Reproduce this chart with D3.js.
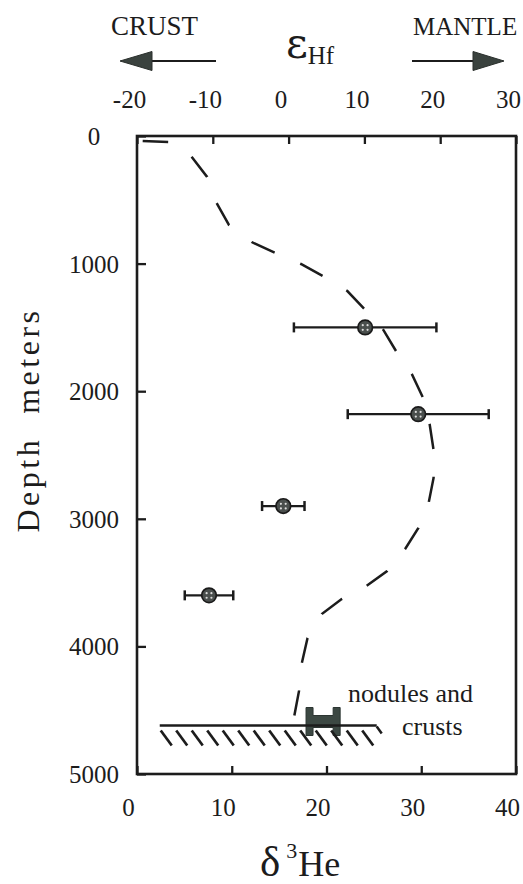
<!DOCTYPE html>
<html>
<head>
<meta charset="utf-8">
<script src="https://cdn.jsdelivr.net/npm/d3@7"></script>
<style>
  html, body { margin: 0; padding: 0; background: #fff; }
  svg { display: block; }
  text { font-family: "Liberation Serif", "Times New Roman", Times, serif; fill: #1c1c1c; }
</style>
</head>
<body>
<svg id="chart" width="523" height="884"></svg>
<script>
// Water-column δ3He profile (dashed curve): δ3He (%) against depth (m)
const profileHe    = [0.6, 3.3, 5.7, 7.4, 8.4, 9.7, 12.1, 14.6, 17.3, 19.6, 22.2, 24.0, 26.0, 27.4, 29.0,
                      30.2, 30.9, 31.3, 31.3, 30.8, 29.7, 28.3, 26.4, 24.2, 21.6, 19.5, 18.0, 17.4, 17.1, 16.6];
const profileDepth = [40, 47, 157, 321, 525, 697, 831, 917, 1003, 1097, 1215, 1356, 1520, 1693, 1865,
                      2053, 2265, 2461, 2680, 2868, 3072, 3237, 3409, 3527, 3629, 3746, 3934, 4130, 4349, 4545];

// Seawater εHf samples with 2σ errors
const sampleDepth = [1500, 2180, 2900, 3600];
const sampleEHf   = [10.1, 17.1, -0.7, -10.5];
const sampleErr   = [9.4, 9.3, 2.8, 3.2];

// Ferromanganese nodules and crusts: εHf range at the sea floor
const noduleEHf   = [2.3, 6.8];
const seafloorDepth = 4620;
const seafloorHe  = [2.4, 25.3];

// Axis ticks
const depthTicks = [0, 1000, 2000, 3000, 4000, 5000];
const heTicks    = [0, 10, 20, 30, 40];
const hfTicks    = [-20, -10, 0, 10, 20, 30];

const svg = d3.select("#chart");
const L = 137, R = 516, T = 136, B = 774;
const ink = "#1c1c1c";

const x  = d3.scaleLinear().domain([0, 40]).range([L, R]);     // δ3He
const xh = d3.scaleLinear().domain([-20, 30]).range([L, R]);   // εHf
const y  = d3.scaleLinear().domain([0, 5000]).range([T, B]);   // depth

// Axes with inward ticks
const gLeft = svg.append("g").attr("transform", `translate(${L},0)`)
  .call(d3.axisLeft(y).tickValues(depthTicks).tickSize(-9).tickFormat(d3.format("d")));
gLeft.selectAll("text").attr("x", -43).attr("text-anchor", "middle").attr("dy", "0.34em");

const gBottom = svg.append("g").attr("transform", `translate(0,${B})`)
  .call(d3.axisBottom(x).tickValues(heTicks).tickSize(-8).tickFormat(d3.format("d")));
gBottom.selectAll("text").attr("y", 42).attr("dy", 0).attr("dx", -9);

const gTop = svg.append("g").attr("transform", `translate(0,${T})`)
  .call(d3.axisTop(xh).tickValues(hfTicks).tickSize(-8).tickFormat(d => d < 0 ? "-" + Math.abs(d) : d));
gTop.selectAll("text").attr("y", -28).attr("dy", 0).attr("dx", -8);

[gLeft, gBottom, gTop].forEach(g => {
  g.select(".domain").remove();
  g.selectAll(".tick line").attr("stroke", ink).attr("stroke-width", 2.3);
  g.selectAll("text").attr("font-size", 25).attr("fill", ink)
    .attr("font-family", "'Liberation Serif', 'Times New Roman', serif");
});

// Plot frame
svg.append("rect").attr("x", L).attr("y", T).attr("width", R - L).attr("height", B - T)
  .attr("fill", "none").attr("stroke", ink).attr("stroke-width", 2.6);

// Dashed δ3He profile
const profile = profileHe.map((v, i) => [v, profileDepth[i]]);
svg.append("path")
  .datum(profile)
  .attr("d", d3.line().x(d => x(d[0])).y(d => y(d[1])))
  .attr("fill", "none").attr("stroke", ink).attr("stroke-width", 2.5)
  .attr("stroke-dasharray", "25.5 27.8");

// Sea floor with hatching
const sf = svg.append("g");
const sfY = y(seafloorDepth);
const sfX0 = x(seafloorHe[0]), sfX1 = x(seafloorHe[1]);

// Nodule / crust symbol
const nx0 = xh(noduleEHf[0]), nx1 = xh(noduleEHf[1]);
sf.append("path")
  .attr("d", `M${nx0},${sfY - 18} H${nx0 + 7} V${sfY - 10} H${nx1 - 7} V${sfY - 18} H${nx1} V${sfY + 10}` +
             ` H${nx1 - 7} V${sfY + 2} H${nx0 + 7} V${sfY + 10} H${nx0} Z`)
  .attr("fill", "#3c4843").attr("stroke", "#2c3532").attr("stroke-width", 1);

sf.append("line").attr("x1", sfX0).attr("x2", sfX1).attr("y1", sfY).attr("y2", sfY)
  .attr("stroke", ink).attr("stroke-width", 2.5);
sf.append("line").attr("x1", sfX1).attr("x2", sfX1 + 5).attr("y1", sfY + 1).attr("y2", sfY + 8)
  .attr("stroke", ink).attr("stroke-width", 2.5);
const hatchX = d3.range(sfX0 + 1, sfX1 - 12, 15.5);
sf.selectAll("line.hatch").data(hatchX).join("line").attr("class", "hatch")
  .attr("x1", d => d).attr("y1", sfY + 5)
  .attr("x2", d => d + 11).attr("y2", sfY + 20)
  .attr("stroke", ink).attr("stroke-width", 2.7);

svg.append("text").attr("x", 348).attr("y", 702).attr("font-size", 26).text("nodules and");
svg.append("text").attr("x", 402).attr("y", 735).attr("font-size", 26).text("crusts");

// εHf samples with error bars
const samples = sampleEHf.map((v, i) => ({ v, d: sampleDepth[i], e: sampleErr[i] }));
const sg = svg.append("g").selectAll("g").data(samples).join("g")
  .attr("transform", d => `translate(0,${y(d.d)})`);
sg.append("line").attr("x1", d => xh(d.v - d.e)).attr("x2", d => xh(d.v + d.e))
  .attr("stroke", ink).attr("stroke-width", 2.3);
sg.append("line").attr("x1", d => xh(d.v - d.e)).attr("x2", d => xh(d.v - d.e))
  .attr("y1", -5).attr("y2", 5).attr("stroke", ink).attr("stroke-width", 2.5);
sg.append("line").attr("x1", d => xh(d.v + d.e)).attr("x2", d => xh(d.v + d.e))
  .attr("y1", -5).attr("y2", 5).attr("stroke", ink).attr("stroke-width", 2.5);
sg.append("circle").attr("cx", d => xh(d.v)).attr("r", 7.3)
  .attr("fill", "#4a4f4d").attr("stroke", "#1a1a1a").attr("stroke-width", 1.7);
[[-2.4, -2.2], [2.4, -2.2], [-2.4, 2.4], [2.4, 2.4]].forEach(([dx, dy]) => {
  sg.append("circle").attr("cx", d => xh(d.v) + dx).attr("cy", dy).attr("r", 1.1).attr("fill", "#dcdcdc");
});

// Axis titles
svg.append("text")
  .attr("transform", "translate(39,420) rotate(-90)")
  .attr("text-anchor", "middle").attr("font-size", 32)
  .attr("letter-spacing", 3.5)
  .attr("xml:space", "preserve")
  .text("Depth  meters");

const heTitle = svg.append("text").attr("x", 260).attr("y", 876);
heTitle.append("tspan").attr("font-size", 43).text("δ");
heTitle.append("tspan").attr("font-size", 22).attr("dx", 6).attr("dy", -18).text("3");
heTitle.append("tspan").attr("font-size", 36).attr("dx", 1).attr("dy", 18).text("He");

const hfTitle = svg.append("text").attr("x", 286).attr("y", 58);
hfTitle.append("tspan").attr("font-size", 42)
  .attr("font-family", "'DejaVu Serif', 'Liberation Serif', serif").text("ε");
hfTitle.append("tspan").attr("font-size", 25).attr("dy", 6).text("Hf");

// Direction labels and arrows
svg.append("text").attr("x", 111).attr("y", 35).attr("font-size", 27).text("CRUST");
svg.append("text").attr("x", 413).attr("y", 35).attr("font-size", 25).text("MANTLE");

svg.append("line").attr("x1", 150).attr("x2", 216).attr("y1", 61).attr("y2", 61)
  .attr("stroke", ink).attr("stroke-width", 2);
svg.append("path").attr("d", "M120,61 L152,51.5 L152,70.5 Z").attr("fill", "#3a423e").attr("stroke", "#2a2f2c");
svg.append("line").attr("x1", 412).attr("x2", 476).attr("y1", 61).attr("y2", 61)
  .attr("stroke", ink).attr("stroke-width", 2);
svg.append("path").attr("d", "M504,61 L473,51.5 L473,70.5 Z").attr("fill", "#3a423e").attr("stroke", "#2a2f2c");
</script>
</body>
</html>
